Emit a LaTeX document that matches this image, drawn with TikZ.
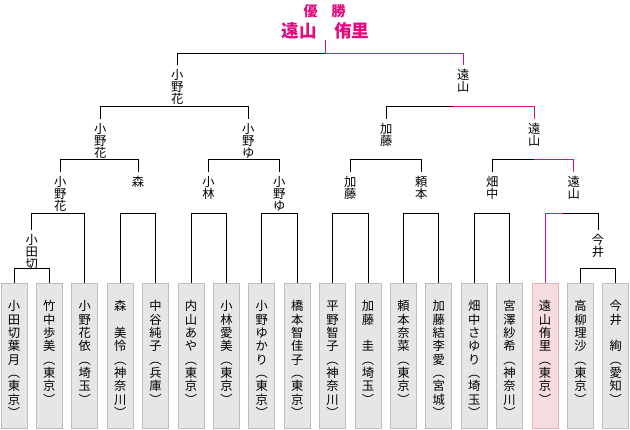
\documentclass[tikz,border=0pt]{standalone}
\usepackage{fontspec}
\setmainfont{Noto Sans CJK JP}
\usepackage{tikz}
\usetikzlibrary{calc}
\definecolor{winpink}{HTML}{E4097F}
\definecolor{boxgray}{HTML}{E6E6E6}
\definecolor{boxline}{HTML}{BEBEBE}
\definecolor{boxpink}{HTML}{F6DCDE}
\definecolor{boxpinkline}{HTML}{E2B3BC}

% vertical text: one character per cell
\newlength\tatepitch
\let\tatestop\relax
\def\tatenext#1{\ifx#1\tatestop\else\hbox to 1em{\hss\vbox to\tatepitch{\vss\hbox{\raisebox{0pt}[0.88em][0.12em]{#1}}\vss}\hss}\expandafter\tatenext\fi}
\newcommand\tatestack[2][0.36cm]{\vbox{\offinterlineskip\setlength\tatepitch{#1}\tatenext#2\tatestop}}
\newcommand\tatebox[1]{\vbox to 4.35cm{\vskip0.48cm\tatestack[0.4cm]{#1}\vss}}

\begin{document}
\begin{tikzpicture}[
  x=0.03cm, y=-0.03cm, line width=0.85pt,
  font=\fontsize{10.5pt}{12pt}\selectfont,
  entrant/.style={draw=boxline, fill=boxgray, minimum width=0.78cm, inner sep=0pt, anchor=north},
  champentrant/.style={entrant, draw=boxpinkline, fill=boxpink},
  winner/.style={inner xsep=0pt, inner ysep=0.09cm, anchor=north},
  win/.style={draw=winpink},
  headline/.style={text=winpink, inner sep=0pt}
]
\useasboundingbox (0,0) rectangle (630,430);

\coordinate (lv0) at (0,269);
\coordinate (lv1) at (0,214);
\coordinate (lv2) at (0,160);
\coordinate (lv3) at (0,106.5);
\coordinate (lv4) at (0,54);

\node[entrant] (odagiri) at (14,283) {\tatebox{小田切葉月︵東京︶}};
\node[entrant] (takenaka) at (49.4,283) {\tatebox{竹中歩美︵東京︶}};
\node[entrant] (onoka) at (84.8,283) {\tatebox{小野花依︵埼玉︶}};
\node[entrant] (mori) at (120.2,283) {\tatebox{森　美怜︵神奈川︶}};
\node[entrant] (nakatani) at (155.6,283) {\tatebox{中谷純子︵兵庫︶}};
\node[entrant] (uchiyama) at (191,283) {\tatebox{内山あや︵東京︶}};
\node[entrant] (kobayashi) at (226.4,283) {\tatebox{小林愛美︵東京︶}};
\node[entrant] (onoyu) at (261.8,283) {\tatebox{小野ゆかり︵東京︶}};
\node[entrant] (hashimoto) at (297.2,283) {\tatebox{橋本智佳子︵東京︶}};
\node[entrant] (hirano) at (332.6,283) {\tatebox{平野智子︵神奈川︶}};
\node[entrant] (kato) at (368,283) {\tatebox{加藤　圭︵埼玉︶}};
\node[entrant] (yorimoto) at (403.4,283) {\tatebox{頼本奈菜︵東京︶}};
\node[entrant] (katoy) at (438.8,283) {\tatebox{加藤結李愛︵宮城︶}};
\node[entrant] (hatanaka) at (474.2,283) {\tatebox{畑中さゆり︵埼玉︶}};
\node[entrant] (miyazawa) at (509.6,283) {\tatebox{宮澤紗希︵神奈川︶}};
\node[champentrant] (toyama) at (545,283) {\tatebox{遠山侑里︵東京︶}};
\node[entrant] (takayanagi) at (580.4,283) {\tatebox{高柳理沙︵東京︶}};
\node[entrant] (imai) at (615.8,283) {\tatebox{今井　絢︵愛知︶}};

\node[winner] (r1odagiri) at (31.7,230) {\tatestack{小田切}};
\node[winner] (r1imai) at (598,230) {\tatestack{今井}};

\node[winner] (r2onoka) at (60.3,172.5) {\tatestack{小野花}};
\node[winner] (r2mori) at (138,172.5) {\tatestack{森}};
\node[winner] (r2kobayashi) at (208.5,172.5) {\tatestack{小林}};
\node[winner] (r2onoyu) at (279.3,172.5) {\tatestack{小野ゆ}};
\node[winner] (r2kato) at (350.3,172.5) {\tatestack{加藤}};
\node[winner] (r2yorimoto) at (421.3,172.5) {\tatestack{頼本}};
\node[winner] (r2hatanaka) at (492.3,172.5) {\tatestack{畑中}};
\node[winner] (r2toyama) at (573.7,172.5) {\tatestack{遠山}};

\node[winner] (r3onoka) at (100.3,119.5) {\tatestack{小野花}};
\node[winner] (r3onoyu) at (248.3,119.5) {\tatestack{小野ゆ}};
\node[winner] (r3kato) at (386.3,119.5) {\tatestack{加藤}};
\node[winner] (r3toyama) at (534.3,119.5) {\tatestack{遠山}};

\node[winner] (r4onoka) at (177.3,65.5) {\tatestack{小野花}};
\node[winner] (r4toyama) at (463.3,65.5) {\tatestack{遠山}};

\node[headline, font=\fontsize{12pt}{14pt}\selectfont\bfseries] (yusho) at (324.7,11.5) {優　勝};
\node[headline, font=\fontsize{15pt}{18pt}\selectfont\bfseries] (champ) at (325.5,31.3) {遠山　侑里};

% brackets
\draw (odagiri.north) -- (odagiri.north |- lv0) -- (takenaka.north |- lv0) -- (takenaka.north);
\draw (takayanagi.north) -- (takayanagi.north |- lv0) -- (imai.north |- lv0) -- (imai.north);

\draw (r1odagiri.north) -- (r1odagiri.north |- lv1) -- (onoka.north |- lv1) -- (onoka.north);
\draw (mori.north) -- (mori.north |- lv1) -- (nakatani.north |- lv1) -- (nakatani.north);
\draw (uchiyama.north) -- (uchiyama.north |- lv1) -- (kobayashi.north |- lv1) -- (kobayashi.north);
\draw (onoyu.north) -- (onoyu.north |- lv1) -- (hashimoto.north |- lv1) -- (hashimoto.north);
\draw (hirano.north) -- (hirano.north |- lv1) -- (kato.north |- lv1) -- (kato.north);
\draw (yorimoto.north) -- (yorimoto.north |- lv1) -- (katoy.north |- lv1) -- (katoy.north);
\draw (hatanaka.north) -- (hatanaka.north |- lv1) -- (miyazawa.north |- lv1) -- (miyazawa.north);
\draw (toyama.north) -- (toyama.north |- lv1) -- (r1imai.north |- lv1) -- (r1imai.north);

\draw (r2onoka.north) -- (r2onoka.north |- lv2) -- (r2mori.north |- lv2) -- (r2mori.north);
\draw (r2kobayashi.north) -- (r2kobayashi.north |- lv2) -- (r2onoyu.north |- lv2) -- (r2onoyu.north);
\draw (r2kato.north) -- (r2kato.north |- lv2) -- (r2yorimoto.north |- lv2) -- (r2yorimoto.north);
\draw (r2hatanaka.north) -- (r2hatanaka.north |- lv2) -- (r2toyama.north |- lv2) -- (r2toyama.north);

\draw (r3onoka.north) -- (r3onoka.north |- lv3) -- (r3onoyu.north |- lv3) -- (r3onoyu.north);
\draw (r3kato.north) -- (r3kato.north |- lv3) -- (r3toyama.north |- lv3) -- (r3toyama.north);

\draw (r4onoka.north) -- (r4onoka.north |- lv4) -- (r4toyama.north |- lv4) -- (r4toyama.north);

% winner path
\coordinate (pk1) at (563,214);
\coordinate (pk3) at (453.3,106.5);
\draw[win] (toyama.north) -- (toyama.north |- lv1) -- (pk1);
\draw[win] (r2toyama.north) -- (r2toyama.north |- lv2) -- (r3toyama.north |- lv2);
\draw[win] (r3toyama.north) -- (r3toyama.north |- lv3) -- (pk3);
\draw[win] (r4toyama.north) -- (r4toyama.north |- lv4) -- (champ.south |- lv4) -- (champ.south);
\end{tikzpicture}
\end{document}
